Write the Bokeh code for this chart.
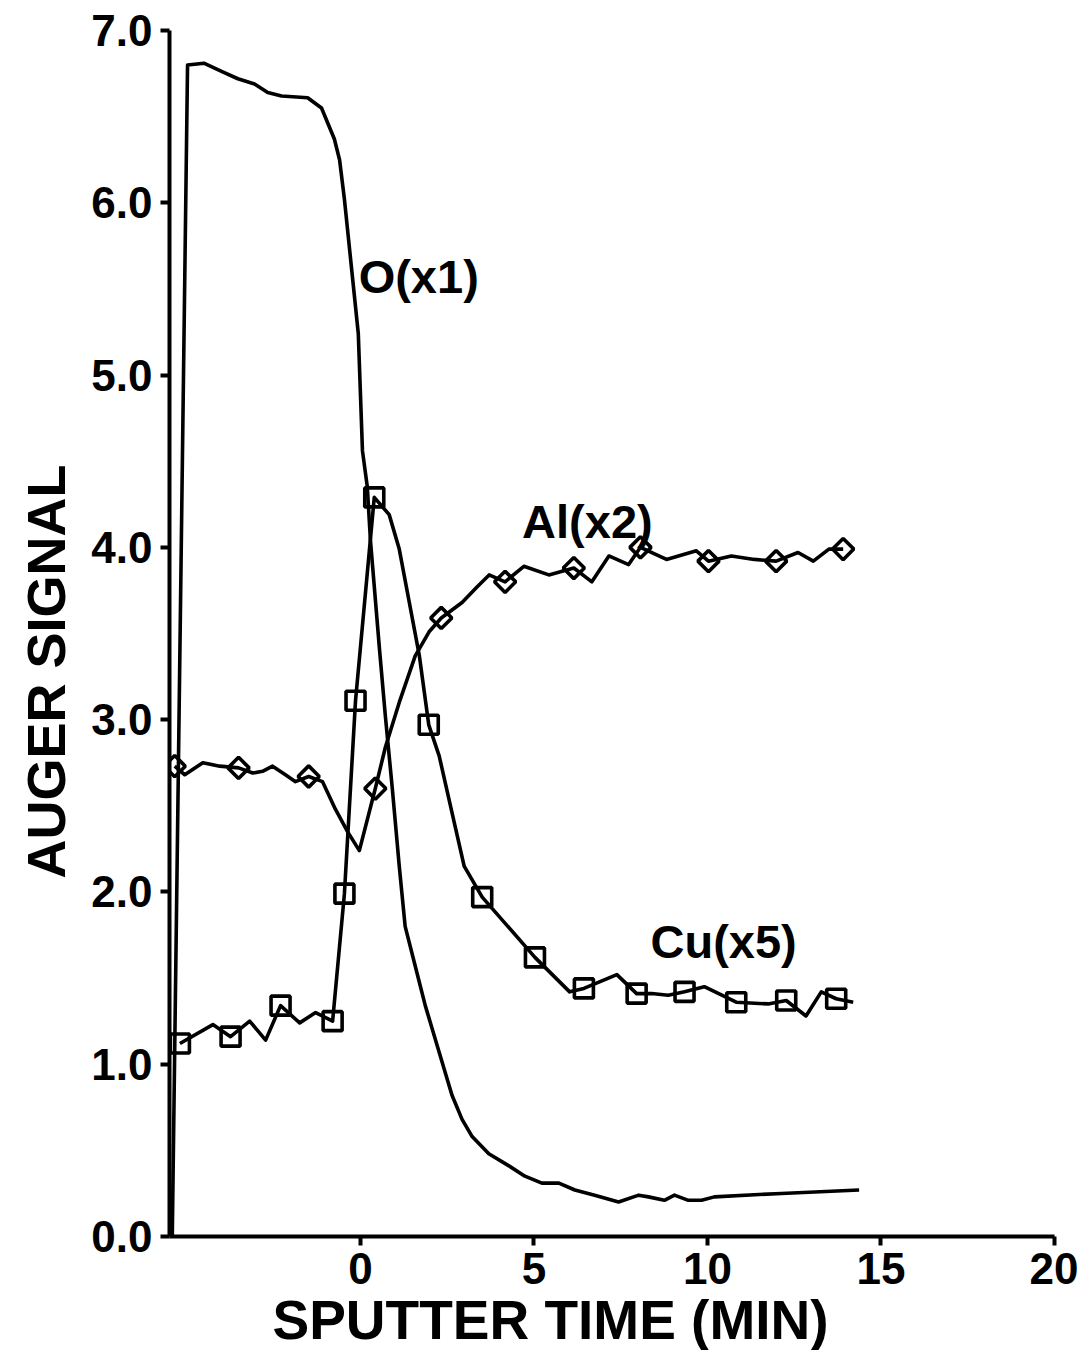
import numpy as np
from bokeh.plotting import figure
from bokeh.models import Label, Title, FixedTicker, NumeralTickFormatter
from bokeh.embed import file_html
from bokeh.resources import INLINE

# ---- data ----
o_x = [-5.42, -4.98, -4.51, -3.97, -3.53, -3.05, -2.67, -2.27, -1.52, -1.12, -0.75, -0.60,
       -0.46, -0.26, -0.06, 0.06, 0.20, 0.29, 0.55, 0.72, 0.92, 1.12, 1.29, 1.58, 1.87,
       2.27, 2.64, 2.93, 3.22, 3.70, 4.28, 4.74, 5.23, 5.72, 6.18, 6.75, 7.44, 8.02, 8.30,
       8.76, 9.05, 9.45, 9.83, 10.2, 12.13, 14.37]
o_y = [0.0, 6.80, 6.81, 6.76, 6.72, 6.69, 6.64, 6.62, 6.61, 6.55, 6.37, 6.25,
       6.02, 5.63, 5.24, 4.56, 4.35, 4.04, 3.41, 3.02, 2.60, 2.15, 1.80, 1.57, 1.34,
       1.07, 0.82, 0.68, 0.58, 0.48, 0.41, 0.35, 0.31, 0.31, 0.27, 0.24, 0.20, 0.24, 0.23,
       0.21, 0.24, 0.21, 0.21, 0.23, 0.25, 0.27]

cu_x = [-5.2, -4.25, -3.74, -3.19, -2.73, -2.30, -1.75, -1.29, -0.80, -0.46, -0.14, 0.40,
        0.83, 1.12, 1.41, 1.70, 1.97, 2.27, 2.64, 2.99, 3.51, 5.03, 6.03, 6.44, 7.39, 7.96,
        8.39, 8.87, 9.34, 9.91, 10.83, 11.75, 12.27, 12.84, 13.28, 13.71, 14.2]
cu_y = [1.12, 1.23, 1.16, 1.25, 1.14, 1.34, 1.24, 1.30, 1.25, 1.99, 3.11, 4.29,
        4.19, 3.99, 3.68, 3.37, 2.97, 2.79, 2.46, 2.15, 1.97, 1.62, 1.42, 1.44, 1.52, 1.41,
        1.41, 1.40, 1.42, 1.45, 1.36, 1.35, 1.37, 1.28, 1.42, 1.38, 1.36]
cu_mark_x = [-5.2, -3.74, -2.30, -0.80, -0.46, -0.14, 0.40, 1.97, 3.51, 5.03, 6.44, 7.96,
             9.34, 10.83, 12.27, 13.71]
cu_mark_y = [1.12, 1.16, 1.34, 1.25, 1.99, 3.11, 4.29, 2.97, 1.97, 1.62, 1.44, 1.41,
             1.42, 1.36, 1.37, 1.38]

al_x = [-5.35, -5.06, -4.54, -4.05, -3.51, -3.10, -2.82, -2.53, -2.16, -1.87, -1.49, -1.09,
        -0.72, -0.37, -0.03, 0.43, 0.72, 1.12, 1.58, 1.98, 2.33, 2.93, 3.36, 3.71, 4.17,
        4.71, 5.43, 6.15, 6.67, 7.16, 7.73, 8.07, 8.82, 9.68, 10.03, 10.69, 11.35, 11.98,
        12.61, 13.05, 13.5, 13.91]
al_y = [2.73, 2.68, 2.75, 2.73, 2.72, 2.69, 2.70, 2.73, 2.68, 2.64, 2.67, 2.64,
        2.48, 2.35, 2.24, 2.60, 2.84, 3.10, 3.37, 3.51, 3.59, 3.68, 3.77, 3.84, 3.80,
        3.89, 3.84, 3.88, 3.80, 3.95, 3.90, 4.00, 3.93, 3.98, 3.92, 3.95, 3.93, 3.92,
        3.97, 3.92, 3.99, 3.99]
al_mark_x = [-5.35, -3.51, -1.49, 0.43, 2.33, 4.17, 6.15, 8.07, 10.03, 11.98, 13.91]
al_mark_y = [2.73, 2.72, 2.67, 2.60, 3.59, 3.80, 3.88, 4.00, 3.92, 3.92, 3.99]

x_ticks = [0, 5, 10, 15, 20]
y_ticks = [0, 1, 2, 3, 4, 5, 6, 7]

series_labels = ["O(x1)", "Al(x2)", "Cu(x5)"]
label_x = [-0.05, 4.66, 8.36]
label_y = [5.57, 4.15, 1.71]

FONT = "Liberation Sans"
INK = "black"

p = figure(frame_width=885, frame_height=1206, x_range=(-5.5, 20), y_range=(0, 7),
           output_backend="svg", toolbar_location=None,
           min_border_left=169, min_border_right=24, min_border_top=30, min_border_bottom=0)
p.outline_line_color = None
p.grid.visible = False
p.background_fill_color = "white"
p.border_fill_color = "white"

for ax in (p.xaxis[0], p.yaxis[0]):
    ax.axis_line_width = 4
    ax.axis_line_color = INK
    ax.major_tick_line_width = 4
    ax.major_tick_line_color = INK
    ax.major_tick_out = 9
    ax.major_tick_in = 0
    ax.minor_tick_line_color = None
    ax.major_label_text_font = FONT
    ax.major_label_text_font_style = "bold"
    ax.major_label_text_color = INK

p.xaxis.ticker = FixedTicker(ticks=x_ticks)
p.yaxis.ticker = FixedTicker(ticks=y_ticks)
p.yaxis.formatter = NumeralTickFormatter(format="0.0")
p.xaxis.major_label_text_font_size = "44px"
p.yaxis.major_label_text_font_size = "44px"
p.xaxis.major_label_standoff = 7
p.yaxis.major_label_standoff = 8

lw = 3.6
p.line(o_x, o_y, line_color=INK, line_width=lw, line_join="round")
p.line(cu_x, cu_y, line_color=INK, line_width=lw, line_join="round")
p.line(al_x, al_y, line_color=INK, line_width=lw, line_join="round")
p.scatter(cu_mark_x, cu_mark_y, marker="square", size=19, line_width=3.6,
          line_color=INK, fill_color=None)
p.scatter(al_mark_x, al_mark_y, marker="square", size=15, angle=np.pi / 4, line_width=3.6,
          line_color=INK, fill_color=None)

for t, lx, ly in zip(series_labels, label_x, label_y):
    p.add_layout(Label(x=lx, y=ly, text=t, text_font=FONT, text_font_style="bold",
                       text_font_size="47px", text_color=INK,
                       text_align="left", text_baseline="middle"))

ytitle = Title(text="AUGER SIGNAL", align="left", offset=358, standoff=25,
               text_font=FONT, text_font_style="bold", text_font_size="54px",
               text_color=INK)
p.add_layout(ytitle, "left")
xtitle = Title(text="SPUTTER TIME (MIN)", align="left", offset=103, standoff=0,
               text_font=FONT, text_font_style="bold", text_font_size="55px",
               text_color=INK)
p.add_layout(xtitle, "below")

open("out.html", "w").write(file_html(p, INLINE))
